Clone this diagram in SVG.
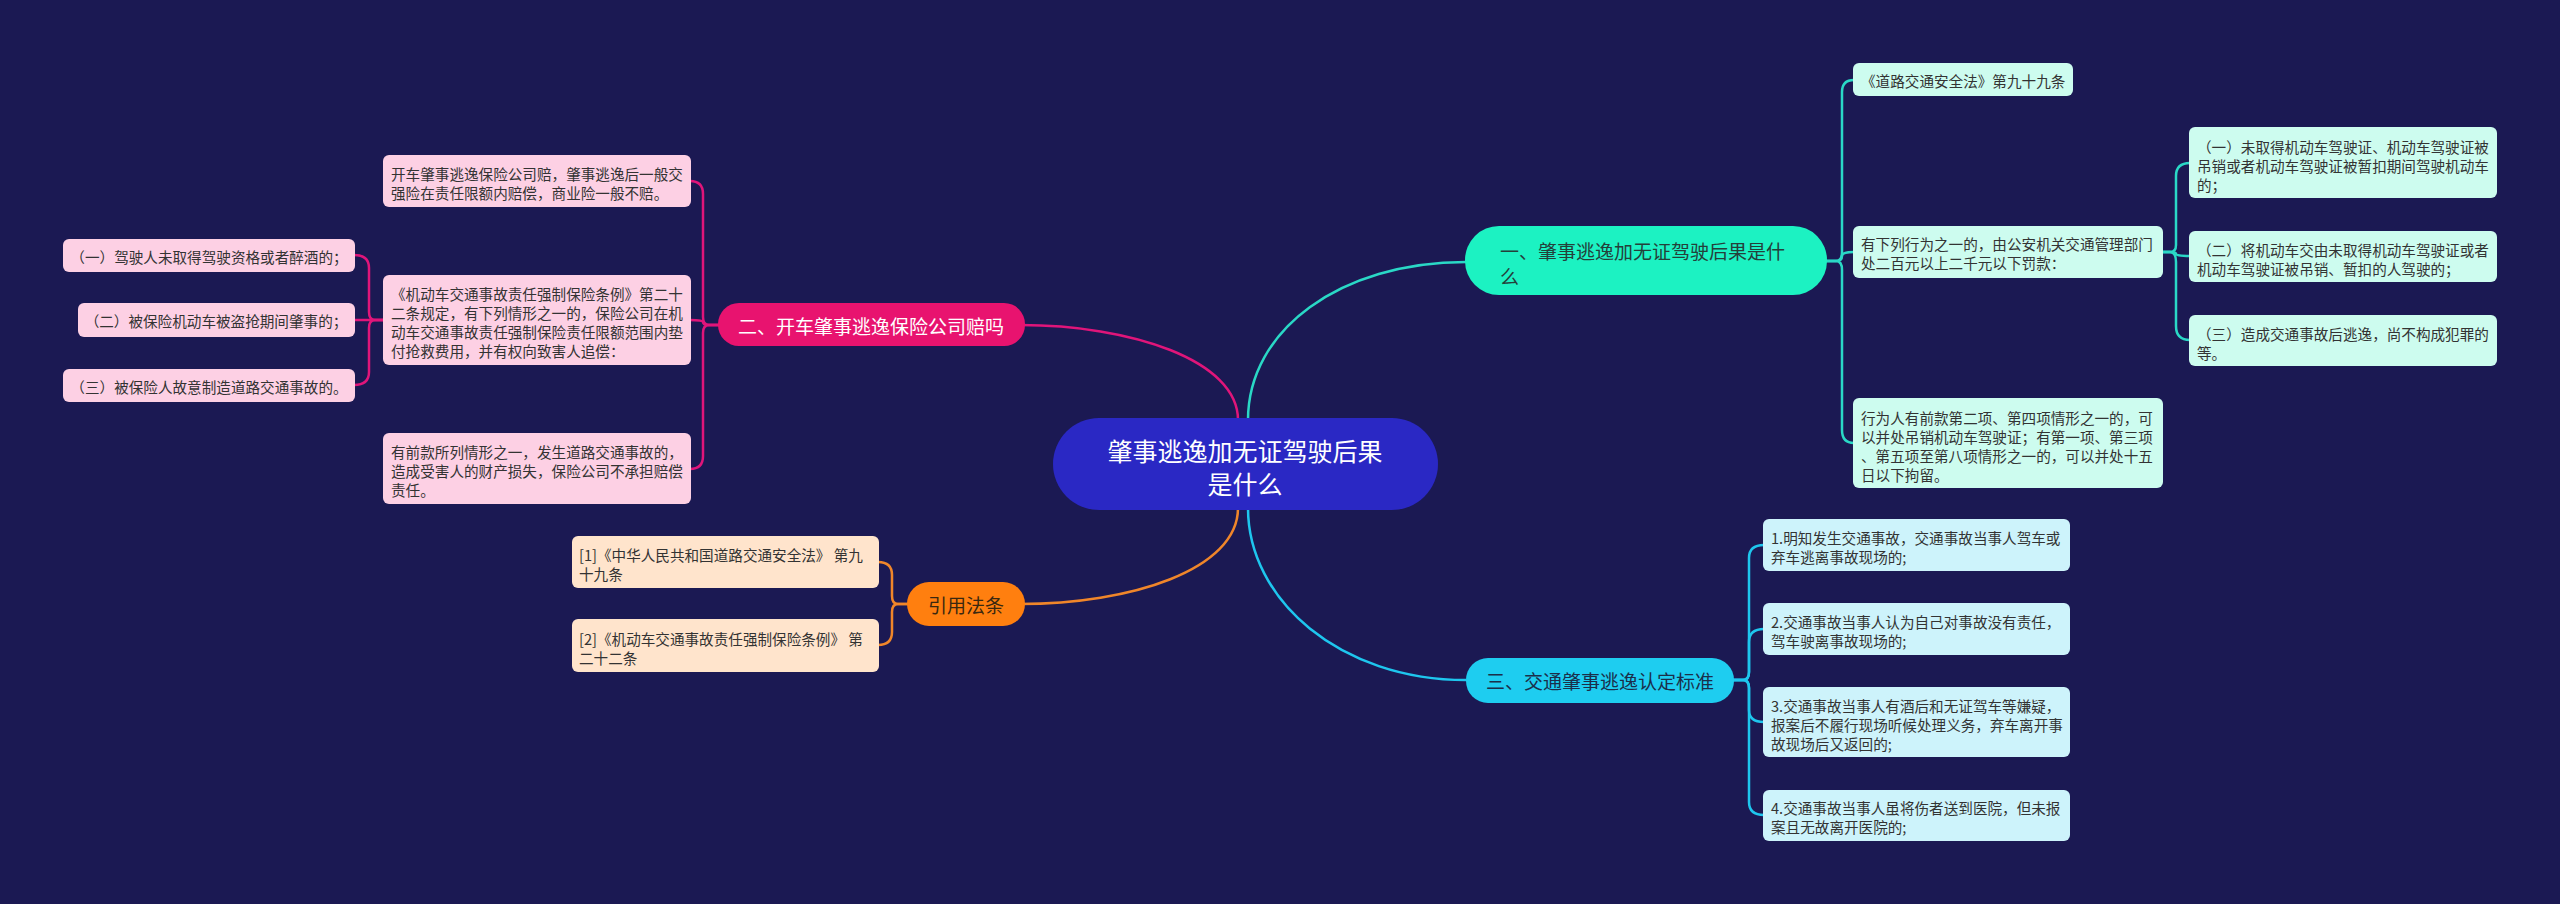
<svg xmlns="http://www.w3.org/2000/svg" width="2560" height="904" viewBox="0 0 2560 904">
<style>
text{font-family:"Noto Sans CJK SC","Noto Sans",sans-serif;dominant-baseline:central}
.t{font-size:14.6px;fill:#333}
.mint{fill:#cdfcef}
.cyanl{fill:#cdf3fb}
.pinkl{fill:#fdd0e4}
.orl{fill:#ffe4cc}
.lt{fill:none;stroke:#2ad8c6;stroke-width:2.5}
.lc{fill:none;stroke:#1ec6ee;stroke-width:2.5}
.lp{fill:none;stroke:#e0157a;stroke-width:2.5}
.lo{fill:none;stroke:#f0862a;stroke-width:2.5}
.main{font-size:19px}
</style>
<rect width="2560" height="904" fill="#1b1953"/>
<g id="connectors">
<path class="lt" d="M1248 420 C1248 330 1340 262 1466 262"/>
<path class="lc" d="M1248 508 C1248 600 1340 680 1466 680"/>
<path class="lp" d="M1238 420 C1238 360 1130 325 1020 325"/>
<path class="lo" d="M1238 508 C1238 570 1130 604 1020 604"/>
<path class="lt" d="M1826 261 H1836 Q1842 261 1842 252 V92 Q1842 80 1854 80"/>
<path class="lt" d="M1826 261 H1836 Q1842 261 1842 256 Q1842 252 1854 252"/>
<path class="lt" d="M1826 261 H1836 Q1842 261 1842 270 V430 Q1842 443 1854 443"/>
<path class="lt" d="M2162 252 H2170 Q2176 252 2176 245 V176 Q2176 163 2190 163"/>
<path class="lt" d="M2162 252 H2170 Q2176 252 2176 254 Q2176 256 2190 256"/>
<path class="lt" d="M2162 252 H2170 Q2176 252 2176 262 V326 Q2176 340 2190 340"/>
<path class="lc" d="M1733 680 H1743 Q1749 680 1749 672 V558 Q1749 545 1764 545"/>
<path class="lc" d="M1733 680 H1743 Q1749 680 1749 672 V642 Q1749 629 1764 629"/>
<path class="lc" d="M1733 680 H1743 Q1749 680 1749 688 V710 Q1749 722 1764 722"/>
<path class="lc" d="M1733 680 H1743 Q1749 680 1749 688 V802 Q1749 815 1764 815"/>
<path class="lp" d="M719 325 H709 Q703 325 703 317 V194 Q703 181 690 181"/>
<path class="lp" d="M719 325 H709 Q703 325 703 322 Q703 320 690 320"/>
<path class="lp" d="M719 325 H709 Q703 325 703 333 V456 Q703 469 690 469"/>
<path class="lp" d="M384 320 H375 Q369 320 369 312 V268 Q369 255 354 255"/>
<path class="lp" d="M384 320 H354"/>
<path class="lp" d="M384 320 H375 Q369 320 369 328 V372 Q369 385 354 385"/>
<path class="lo" d="M908 604 H898 Q892 604 892 596 V575 Q892 562 878 562"/>
<path class="lo" d="M908 604 H898 Q892 604 892 612 V632 Q892 645 878 645"/>
</g>
<g id="center">
<rect x="1053" y="418" width="385" height="92" rx="46" fill="#2a28c4"/>
<text x="1245" y="450" text-anchor="middle" font-size="25" fill="#fff">肇事逃逸加无证驾驶后果</text>
<text x="1245" y="483" text-anchor="middle" font-size="25" fill="#fff">是什么</text>
</g>
<g id="n1">
<rect x="1465" y="226" width="362" height="69" rx="34" fill="#1cf2c2"/>
<text class="main" x="1500" y="250" fill="#24403a">一、肇事逃逸加无证驾驶后果是什</text>
<text class="main" x="1500" y="275" fill="#24403a">么</text>
</g>
<g id="n1a">
<rect class="mint" x="1853" y="63" width="220" height="33" rx="6"/>
<text class="t" x="1861" y="80">《道路交通安全法》第九十九条</text>
</g>
<g id="n1b">
<rect class="mint" x="1853" y="226" width="310" height="52" rx="6"/>
<text class="t" x="1861" y="243">有下列行为之一的，由公安机关交通管理部门</text>
<text class="t" x="1861" y="262">处二百元以上二千元以下罚款：</text>
</g>
<g id="n1c">
<rect class="mint" x="1853" y="398" width="310" height="90" rx="6"/>
<text class="t" x="1861" y="417">行为人有前款第二项、第四项情形之一的，可</text>
<text class="t" x="1861" y="436">以并处吊销机动车驾驶证；有第一项、第三项</text>
<text class="t" x="1861" y="455">、第五项至第八项情形之一的，可以并处十五</text>
<text class="t" x="1861" y="474">日以下拘留。</text>
</g>
<g id="g1">
<rect class="mint" x="2189" y="127" width="308" height="71" rx="6"/>
<text class="t" x="2197" y="146">（一）未取得机动车驾驶证、机动车驾驶证被</text>
<text class="t" x="2197" y="165">吊销或者机动车驾驶证被暂扣期间驾驶机动车</text>
<text class="t" x="2197" y="184">的；</text>
</g>
<g id="g2">
<rect class="mint" x="2189" y="231" width="308" height="51" rx="6"/>
<text class="t" x="2197" y="249">（二）将机动车交由未取得机动车驾驶证或者</text>
<text class="t" x="2197" y="268">机动车驾驶证被吊销、暂扣的人驾驶的；</text>
</g>
<g id="g3">
<rect class="mint" x="2189" y="315" width="308" height="51" rx="6"/>
<text class="t" x="2197" y="333">（三）造成交通事故后逃逸，尚不构成犯罪的</text>
<text class="t" x="2197" y="352">等。</text>
</g>
<g id="n3">
<rect x="1466" y="658" width="268" height="45" rx="22" fill="#1ecdf0"/>
<text class="main" x="1600" y="680" text-anchor="middle" fill="#1b2f4a">三、交通肇事逃逸认定标准</text>
</g>
<g id="c1">
<rect class="cyanl" x="1763" y="519" width="307" height="52" rx="6"/>
<text class="t" x="1771" y="537">1.明知发生交通事故，交通事故当事人驾车或</text>
<text class="t" x="1771" y="556">弃车逃离事故现场的;</text>
</g>
<g id="c2">
<rect class="cyanl" x="1763" y="603" width="307" height="52" rx="6"/>
<text class="t" x="1771" y="621">2.交通事故当事人认为自己对事故没有责任，</text>
<text class="t" x="1771" y="640">驾车驶离事故现场的;</text>
</g>
<g id="c3">
<rect class="cyanl" x="1763" y="687" width="307" height="70" rx="6"/>
<text class="t" x="1771" y="705">3.交通事故当事人有酒后和无证驾车等嫌疑，</text>
<text class="t" x="1771" y="724">报案后不履行现场听候处理义务，弃车离开事</text>
<text class="t" x="1771" y="743">故现场后又返回的;</text>
</g>
<g id="c4">
<rect class="cyanl" x="1763" y="790" width="307" height="51" rx="6"/>
<text class="t" x="1771" y="807">4.交通事故当事人虽将伤者送到医院，但未报</text>
<text class="t" x="1771" y="826">案且无故离开医院的;</text>
</g>
<g id="n2">
<rect x="718" y="303" width="307" height="43" rx="21" fill="#e8136f"/>
<text class="main" x="871" y="325" text-anchor="middle" fill="#fff">二、开车肇事逃逸保险公司赔吗</text>
</g>
<g id="p1">
<rect class="pinkl" x="383" y="155" width="308" height="52" rx="6"/>
<text class="t" x="391" y="173">开车肇事逃逸保险公司赔，肇事逃逸后一般交</text>
<text class="t" x="391" y="192">强险在责任限额内赔偿，商业险一般不赔。</text>
</g>
<g id="p2">
<rect class="pinkl" x="383" y="275" width="308" height="90" rx="6"/>
<text class="t" x="391" y="293">《机动车交通事故责任强制保险条例》第二十</text>
<text class="t" x="391" y="312">二条规定，有下列情形之一的，保险公司在机</text>
<text class="t" x="391" y="331">动车交通事故责任强制保险责任限额范围内垫</text>
<text class="t" x="391" y="350">付抢救费用，并有权向致害人追偿：</text>
</g>
<g id="p3">
<rect class="pinkl" x="383" y="433" width="308" height="71" rx="6"/>
<text class="t" x="391" y="451">有前款所列情形之一，发生道路交通事故的，</text>
<text class="t" x="391" y="470">造成受害人的财产损失，保险公司不承担赔偿</text>
<text class="t" x="391" y="489">责任。</text>
</g>
<g id="q1">
<rect class="pinkl" x="63" y="239" width="292" height="33" rx="6"/>
<text class="t" x="209" y="256" text-anchor="middle">（一）驾驶人未取得驾驶资格或者醉酒的；</text>
</g>
<g id="q2">
<rect class="pinkl" x="78" y="303" width="277" height="34" rx="6"/>
<text class="t" x="216" y="320" text-anchor="middle">（二）被保险机动车被盗抢期间肇事的；</text>
</g>
<g id="q3">
<rect class="pinkl" x="63" y="369" width="292" height="33" rx="6"/>
<text class="t" x="209" y="386" text-anchor="middle">（三）被保险人故意制造道路交通事故的。</text>
</g>
<g id="n4">
<rect x="907" y="582" width="118" height="44" rx="22" fill="#ff7f0f"/>
<text class="main" x="966" y="604" text-anchor="middle" fill="#3a2810">引用法条</text>
</g>
<g id="r1">
<rect class="orl" x="572" y="536" width="307" height="52" rx="6"/>
<text class="t" x="579" y="554">[1]《中华人民共和国道路交通安全法》 第九</text>
<text class="t" x="579" y="573">十九条</text>
</g>
<g id="r2">
<rect class="orl" x="572" y="619" width="307" height="53" rx="6"/>
<text class="t" x="579" y="638">[2]《机动车交通事故责任强制保险条例》 第</text>
<text class="t" x="579" y="657">二十二条</text>
</g>
</svg>
